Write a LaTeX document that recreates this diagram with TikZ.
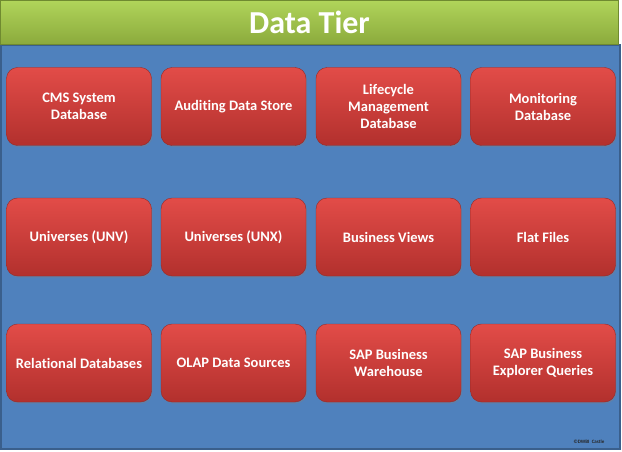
\documentclass[tikz,border=0pt]{standalone}
\usepackage{fontspec}
\setmainfont[RawFeature=-liga]{Carlito}
\usetikzlibrary{shadows}

\definecolor{tierblue}{HTML}{4F81BD}
\definecolor{tierblueline}{HTML}{3A5F8C}
\definecolor{headtop}{HTML}{B0D45A}
\definecolor{headbot}{HTML}{8BAA3C}
\definecolor{headline}{HTML}{6F8A30}
\definecolor{boxtop}{HTML}{E24C48}
\definecolor{boxbot}{HTML}{B2302D}
\definecolor{boxline}{HTML}{962A28}

\tikzset{
  tierbox/.style={draw=boxline, rounded corners=11pt, top color=boxtop, bottom color=boxbot,
    minimum width=145pt, minimum height=78pt, inner sep=2pt, align=center, text=white,
    font=\fontsize{14.5}{17}\selectfont\bfseries,
    drop shadow={shadow xshift=1pt, shadow yshift=-1.5pt, opacity=0.35}},
  header/.style={draw=headline, top color=headtop, bottom color=headbot,
    minimum width=618pt, minimum height=44pt, inner sep=0pt, text=white,
    font=\fontsize{32}{36}\selectfont\bfseries}
}

\begin{document}
\begin{tikzpicture}[x=1pt,y=-1pt]
  \useasboundingbox (0,0) rectangle (622,452);

  % --- blue panel and green header ---
  \draw[fill=tierblue, draw=tierblueline, line width=1.5pt] (1,45) rectangle (620,449);
  \node[header] (title) at (309.5,22.5) {Data Tier};

  % --- first row ---
  \foreach \x/\txt [count=\c] in {79/{CMS System\\Database}, 233.5/{Auditing Data Store},
      388.5/{Lifecycle\\Management\\Database}, 543/{Monitoring\\Database}} {
    \node[tierbox] (a\c) at (\x,106.5) {\txt};
  }

  % --- second row ---
  \foreach \x/\txt [count=\c] in {79/{Universes (UNV)}, 233.5/{Universes (UNX)},
      388.5/{Business Views}, 543/{Flat Files}} {
    \node[tierbox] (b\c) at (\x,237) {\txt};
  }

  % --- third row ---
  \foreach \x/\txt [count=\c] in {79/{Relational Databases}, 233.5/{OLAP Data Sources},
      388.5/{SAP Business\\Warehouse}, 543/{SAP Business\\Explorer Queries}} {
    \node[tierbox] (c\c) at (\x,363) {\txt};
  }

  % --- copyright note ---
  \node[text=black!85, font=\fontsize{5}{6}\selectfont\bfseries] (note) at (589,442) {©DWBI\ \ Castle};
\end{tikzpicture}
\end{document}
